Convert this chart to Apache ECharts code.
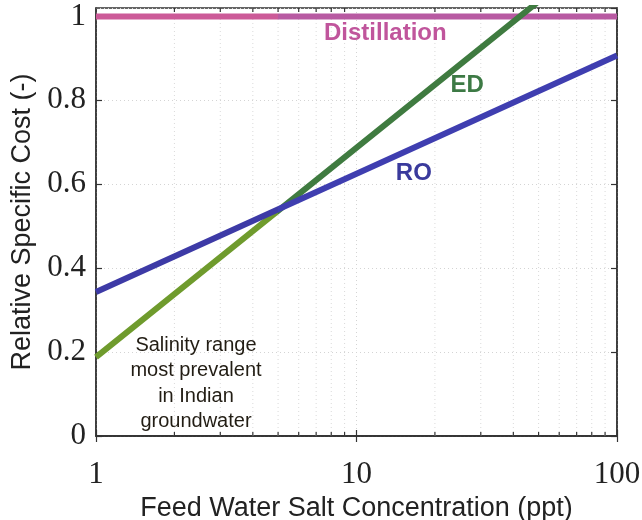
<!DOCTYPE html>
<html>
<head>
<meta charset="utf-8">
<script src="https://cdn.jsdelivr.net/npm/echarts@6/dist/echarts.min.js"></script>
<style>html,body{margin:0;padding:0;background:#fff;}#c{width:642px;height:520px;}</style>
</head>
<body>
<div id="c"></div>
<script>
// Feed water salt concentration (ppt) at line end points
var xPoints = [1, 100];
// Relative specific cost
var distillation = [1, 1];
var ed = [0.188, 1.186];
var ro = [0.343, 0.907];
// Salinity range most prevalent in Indian groundwater (ppt)
var salinityRange = [1, 5];
// Minor log ticks
var minorTicks = [2, 3, 4, 5, 6, 7, 8, 9, 20, 30, 40, 50, 60, 70, 80, 90];
var yTicks = [0, 0.2, 0.4, 0.6, 0.8, 1];

function pairs(ys) { return xPoints.map(function (x, i) { return [x, ys[i]]; }); }

var chart = echarts.init(document.getElementById('c'), null, {renderer: 'canvas'});
var YMAX = 1.02;
var axisLineStyle = {color: '#333', width: 1.5};
var gridDots = {show: true, lineStyle: {color: '#d4d4d4', type: [1, 3], width: 1}};
var serif = '"Liberation Serif", "DejaVu Serif", serif';
var sans = '"Liberation Sans", Arial, sans-serif';
var lineColors = {
  Distillation: ['#cc5a98', '#b85aa2'],
  ED: ['#6f9b2d', '#3f7b40'],
  RO: ['#3d3aa6', '#3f3eb0']
};

function textMark(coord, text, style) {
  return {
    symbol: 'circle', symbolSize: 0, silent: true,
    itemStyle: {color: 'transparent'},
    data: [{coord: coord, label: Object.assign({show: true, position: 'inside', formatter: text}, style)}]
  };
}

chart.setOption({
  animation: false,
  backgroundColor: '#fff',
  grid: {left: 96, right: 25, top: 8, bottom: 84, show: true, borderColor: '#333', borderWidth: 1.5,
    backgroundColor: 'transparent', containLabel: false, outerBoundsMode: 'none'},
  xAxis: [{
    type: 'log', logBase: 10, min: 1, max: 100,
    name: 'Feed Water Salt Concentration (ppt)', nameLocation: 'middle', nameGap: 54,
    nameTextStyle: {fontFamily: sans, fontSize: 27, color: '#222'},
    axisLine: {show: true, lineStyle: axisLineStyle},
    axisTick: {show: true, inside: true, length: 6, lineStyle: {color: '#333', width: 1.2}},
    axisLabel: {fontFamily: serif, fontSize: 31, color: '#222', margin: 23, formatter: function (v) { return String(v); }},
    splitLine: gridDots
  }, {
    type: 'log', logBase: 10, min: 1, max: 100, position: 'top',
    axisLine: {show: true, lineStyle: axisLineStyle},
    axisTick: {show: true, inside: true, length: 6, lineStyle: {color: '#333', width: 1.2}},
    axisLabel: {show: false}, splitLine: {show: false}
  }],
  yAxis: [{
    type: 'value', min: 0, max: YMAX, interval: 0.2,
    name: 'Relative Specific Cost (-)', nameLocation: 'middle', nameGap: 47,
    nameTextStyle: {fontFamily: sans, fontSize: 27, color: '#222'},
    axisLine: {show: true, lineStyle: axisLineStyle},
    axisTick: {show: true, inside: true, length: 6, lineStyle: {color: '#333', width: 1.2}},
    axisLabel: {fontFamily: serif, fontSize: 31, color: '#222', margin: 10, showMaxLabel: false,
      formatter: function (v) { var r = Math.round(v * 10) / 10; return yTicks.indexOf(r) >= 0 && Math.abs(r - v) < 1e-6 ? String(r) : ''; }},
    splitLine: gridDots
  }, {
    type: 'value', min: 0, max: YMAX, interval: 0.2, position: 'right',
    axisLine: {show: true, lineStyle: axisLineStyle},
    axisTick: {show: true, inside: true, length: 6, lineStyle: {color: '#333', width: 1.2}},
    axisLabel: {show: false}, splitLine: {show: false}
  }],
  series: [
    {
      type: 'custom', z: 1, silent: true,
      data: minorTicks.map(function (v) { return [v, 0]; }),
      encode: {x: 0, y: 1},
      renderItem: function (params, api) {
        var v = api.value(0);
        var b = api.coord([v, 0]);
        var t = api.coord([v, YMAX]);
        return {type: 'group', children: [
          {type: 'line', shape: {x1: b[0], y1: b[1], x2: t[0], y2: t[1]}, style: {stroke: '#dadada', lineWidth: 1, lineDash: [1, 3]}},
          {type: 'line', shape: {x1: b[0], y1: b[1], x2: b[0], y2: b[1] - 4}, style: {stroke: '#333', lineWidth: 1.2}},
          {type: 'line', shape: {x1: t[0], y1: t[1], x2: t[0], y2: t[1] + 4}, style: {stroke: '#333', lineWidth: 1.2}}
        ]};
      },
      markPoint: textMark([2.42, 0.125], 'Salinity range\nmost prevalent\nin Indian\ngroundwater',
        {fontFamily: sans, fontSize: 20, lineHeight: 25.5, color: '#221d14', align: 'center', verticalAlign: 'middle'})
    },
    {
      name: 'Distillation', type: 'line', data: pairs(distillation), symbol: 'none', z: 3,
      lineStyle: {width: 6, color: lineColors.Distillation[1]},
      markPoint: textMark([12.9, 0.96], 'Distillation', {fontFamily: sans, fontWeight: 'bold', fontSize: 24, color: '#c0559c'})
    },
    {
      name: 'ED', type: 'line', data: pairs(ed), symbol: 'none', z: 4, clip: true,
      lineStyle: {width: 6, color: lineColors.ED[1]},
      markPoint: textMark([26.6, 0.836], 'ED', {fontFamily: sans, fontWeight: 'bold', fontSize: 24, color: '#3d7a45'})
    },
    {
      name: 'RO', type: 'line', data: pairs(ro), symbol: 'none', z: 5,
      lineStyle: {width: 6, color: lineColors.RO[1]},
      markPoint: textMark([16.6, 0.626], 'RO', {fontFamily: sans, fontWeight: 'bold', fontSize: 24, color: '#3a3a9c'})
    }
  ]
});

// Tint the line segments inside the salinity range, using the axis scale.
var x0 = chart.convertToPixel({xAxisIndex: 0}, xPoints[0]);
var x1 = chart.convertToPixel({xAxisIndex: 0}, xPoints[xPoints.length - 1]);
var xs = chart.convertToPixel({xAxisIndex: 0}, salinityRange[1]);
var f = (xs - x0) / (x1 - x0);
function grad(c) {
  return {type: 'linear', x: x0, y: 0, x2: x1, y2: 0, global: true, colorStops: [
    {offset: 0, color: c[0]}, {offset: f, color: c[0]}, {offset: f, color: c[1]}, {offset: 1, color: c[1]}
  ]};
}
chart.setOption({series: [
  {},
  {lineStyle: {color: grad(lineColors.Distillation)}},
  {lineStyle: {color: grad(lineColors.ED)}},
  {lineStyle: {color: grad(lineColors.RO)}}
]});
</script>
</body>
</html>
